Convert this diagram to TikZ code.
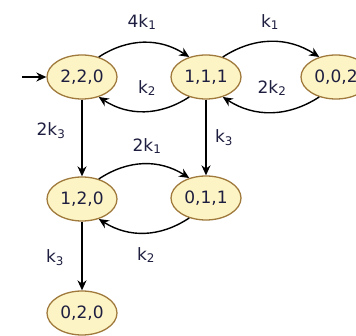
\documentclass[tikz,border=0pt]{standalone}
\usepackage{fontspec}
\setmainfont{DejaVu Sans}
\usetikzlibrary{shapes.geometric,arrows.meta}
\definecolor{stfill}{HTML}{FCF4C4}
\definecolor{stline}{HTML}{A07A3C}
\definecolor{txt}{HTML}{1E1E40}
\begin{document}
\begin{tikzpicture}[x=1pt,y=-1pt,
  state/.style={ellipse,draw=stline,fill=stfill,line width=1.3pt,minimum width=70pt,minimum height=44pt,inner sep=0pt,font=\fontsize{17}{17}\selectfont,text=txt},
  tr/.style={line width=1.4pt,-{Stealth[length=10pt,width=9pt]}},
  lab/.style={font=\fontsize{17}{17}\selectfont,text=txt}]
\useasboundingbox (0,0) rectangle (356,336);
\clip (0,0) rectangle (356,336);
\node[state] (a) at (82,77) {2,2,0};
\node[state] (b) at (206,77) {1,1,1};
\node[state] (c) at (336,77) {0,0,2};
\node[state] (d) at (82,199) {1,2,0};
\node[state] (e) at (206,198) {0,1,1};
\node[state] (f) at (82,313) {0,2,0};
\coordinate (in) at (22,77);
\draw[tr] (in) -- (a);
\draw[tr] (a.50) to[bend left=33] (b.130);
\draw[tr] (b.230) to[bend left=33] (a.-50);
\draw[tr] (b.50) to[bend left=33] (c.130);
\draw[tr] (c.230) to[bend left=33] (b.-50);
\draw[tr] (a) -- (d);
\draw[tr] (b) -- (e);
\draw[tr] (d.50) to[bend left=33] (e.130);
\draw[tr] (e.230) to[bend left=33] (d.-50);
\draw[tr] (d) -- (f);
\node[lab] (l1) at (142,22) {4k\textsubscript{1}};
\node[lab] (l2) at (147,88) {k\textsubscript{2}};
\node[lab] (l3) at (270,22) {k\textsubscript{1}};
\node[lab] (l4) at (272,88) {2k\textsubscript{2}};
\node[lab] (l5) at (51,131) {2k\textsubscript{3}};
\node[lab] (l6) at (224,138) {k\textsubscript{3}};
\node[lab] (l7) at (147,146) {2k\textsubscript{1}};
\node[lab] (l8) at (146,255) {k\textsubscript{2}};
\node[lab] (l9) at (55,258) {k\textsubscript{3}};
\end{tikzpicture}
\end{document}
